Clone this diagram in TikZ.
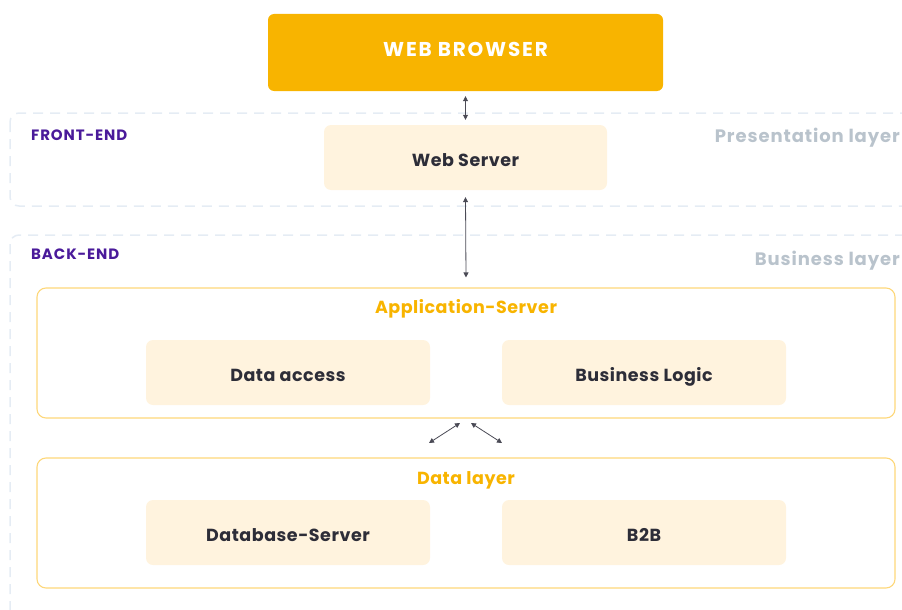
\documentclass[tikz,border=0pt]{standalone}
\usepackage{fontspec}
\setmainfont{Poppins}
\usetikzlibrary{arrows.meta}
\definecolor{gold}{HTML}{F8B400}
\definecolor{cream}{HTML}{FFF3DE}
\definecolor{goldline}{HTML}{FDD77A}
\definecolor{dashc}{HTML}{E5ECF4}
\definecolor{purp}{HTML}{4A1A9A}
\definecolor{greyt}{HTML}{B9C3CC}
\definecolor{darkt}{HTML}{2D2D38}
\definecolor{arrowc}{HTML}{4A4A55}
\tikzset{
  browserbox/.style={fill=gold, rounded corners=6pt, inner sep=0pt, text=white,
    font=\fontsize{20}{24}\selectfont\bfseries\addfontfeatures{LetterSpace=9},
    text height=14pt, text depth=5pt},
  creambox/.style={fill=cream, rounded corners=7pt, inner sep=0pt, text=darkt,
    font=\fontsize{17.5}{20}\selectfont\bfseries\addfontfeatures{LetterSpace=3},
    text height=17.2pt, text depth=0pt},
  groupbox/.style={draw=goldline, line width=1.1pt, rounded corners=9pt},
  grouptitle/.style={text=gold, inner sep=0pt,
    font=\fontsize{17.5}{20}\selectfont\bfseries\addfontfeatures{LetterSpace=3},
    text height=12.2pt, text depth=0pt},
  sidelabel/.style={text=purp, inner sep=0pt, anchor=west,
    font=\fontsize{15}{16}\selectfont\bfseries\addfontfeatures{LetterSpace=6},
    text height=10.5pt, text depth=0pt},
  layerlabel/.style={text=greyt, inner sep=0pt, anchor=east,
    font=\fontsize{18}{20}\selectfont\bfseries\addfontfeatures{LetterSpace=5},
    text height=12.6pt, text depth=0pt},
  layerbox/.style={draw=dashc, line width=1.5pt, dash pattern=on 10pt off 7pt, rounded corners=9pt},
  conn/.style={draw=arrowc, line width=0.8pt, {Triangle[length=5pt,width=5pt]}-{Triangle[length=5pt,width=5pt]}}
}
\begin{document}
\begin{tikzpicture}[x=1pt,y=-1pt]
\useasboundingbox (0,0) rectangle (902,610);
\clip (0,0) rectangle (902,610);
% layers
\draw[layerbox] (10,113) rectangle (930,206);
\draw[layerbox] (10,235) rectangle (930,640);
\node[sidelabel] (fe) at (31,135) {FRONT-END};
\node[sidelabel] (be) at (31,254) {BACK-END};
\node[layerlabel] (pl) at (900,136) {Presentation layer};
\node[layerlabel] (bl) at (900,259) {Business layer};
% browser
\node[browserbox, minimum width=395pt, minimum height=77pt] (wb) at (465.5,52.5) {WEB BROWSER};
\node[creambox, minimum width=283pt, minimum height=65pt] (ws) at (465.5,157.5) {Web Server};
% app server
\node[groupbox, minimum width=858pt, minimum height=130pt] (app) at (466,353) {};
\node[grouptitle] (appt) at (466,307) {Application-Server};
\node[creambox, minimum width=284pt, minimum height=65pt] (da) at (288,372.5) {Data access};
\node[creambox, minimum width=284pt, minimum height=65pt] (bl2) at (644,372.5) {Business Logic};
% data layer
\node[groupbox, minimum width=858pt, minimum height=130pt] (dl) at (466,523) {};
\node[grouptitle] (dlt) at (466,478) {Data layer};
\node[creambox, minimum width=284pt, minimum height=65pt] (db) at (288,532.5) {Database-Server};
\node[creambox, minimum width=284pt, minimum height=65pt] (b2b) at (644,532.5) {B2B};
% connectors
\draw[conn] ([yshift=-5pt]wb.south) -- ([yshift=5pt]ws.north);
\draw[conn] ([yshift=-7pt]ws.south) -- ([yshift=10pt]app.north);
\coordinate (a1) at (429,443);
\coordinate (a2) at (460,423);
\coordinate (b1) at (471,423);
\coordinate (b2) at (502,443);
\draw[conn] (a1) -- (a2);
\draw[conn] (b1) -- (b2);
\end{tikzpicture}
\end{document}
